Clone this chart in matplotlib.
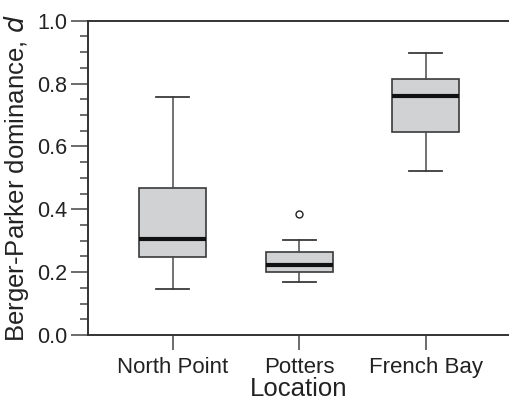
import matplotlib
matplotlib.use("Agg")
import matplotlib.pyplot as plt
from matplotlib.ticker import MultipleLocator

categories = ["North Point", "Potters", "French Bay"]
whislo = [0.147, 0.170, 0.523]
q1 = [0.249, 0.200, 0.646]
med = [0.304, 0.222, 0.761]
q3 = [0.467, 0.265, 0.815]
whishi = [0.756, 0.303, 0.896]
fliers = [[], [0.384], []]

plt.rcParams['font.family'] = ['Liberation Sans', 'DejaVu Sans']

fig = plt.figure(figsize=(5.09, 4.01), dpi=100)
ax = fig.add_axes([88/509, 1 - 335/401, 1 - 88/509, (335 - 20.7)/401])

stats = []
for i, c in enumerate(categories):
    stats.append(dict(label=c, whislo=whislo[i], q1=q1[i], med=med[i],
                      q3=q3[i], whishi=whishi[i], fliers=fliers[i]))

ax.bxp(stats, positions=[1, 2, 3], widths=0.53, patch_artist=True,
       boxprops=dict(facecolor='#d1d2d4', edgecolor='#3a3a3a', linewidth=1.2),
       medianprops=dict(color='#111111', linewidth=3),
       whiskerprops=dict(color='#4a4a4a', linewidth=1.1),
       capprops=dict(color='#3a3a3a', linewidth=1.3),
       flierprops=dict(marker='o', markersize=5, markerfacecolor='white',
                       markeredgecolor='#222222', markeredgewidth=1.0),
       capwidths=0.26)

ax.set_xlim(0.33, 3.66)
ax.set_ylim(0, 1.0)
ax.yaxis.set_major_locator(MultipleLocator(0.2))
ax.yaxis.set_minor_locator(MultipleLocator(0.05))
ax.set_yticklabels([f"{v:.1f}" for v in ax.get_yticks()])

for s in ['left', 'bottom', 'top']:
    ax.spines[s].set_linewidth(1.4)
    ax.spines[s].set_color('#333333')
ax.spines['right'].set_visible(False)

ax.tick_params(axis='y', which='major', length=12, width=1.1, color='#444444',
               labelsize=15.5, pad=3, labelcolor='#222222')
ax.tick_params(axis='y', which='minor', length=6, width=1.1, color='#444444')
ax.tick_params(axis='x', which='major', length=11, width=1.1, color='#444444',
               labelsize=16, pad=5, labelcolor='#222222')

ax.set_xlabel("Location", fontsize=18.5, labelpad=-1, color='#222222')
ax.set_ylabel("Berger-Parker dominance, $\\it{d}$", fontsize=18.5,
              color='#222222')
ax.yaxis.set_label_coords(-0.135, 0.5)

fig.savefig("out.png", dpi=100)
